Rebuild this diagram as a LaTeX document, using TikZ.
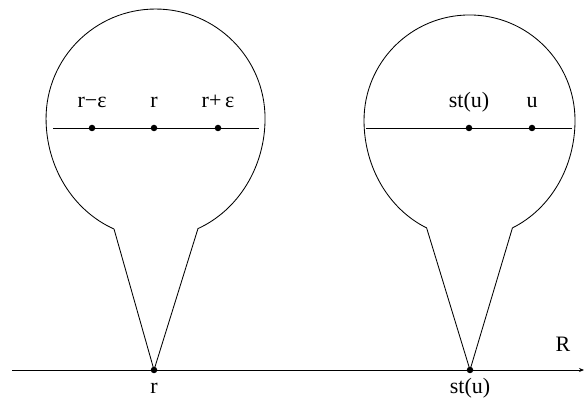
\documentclass[tikz,border=0pt]{standalone}
\usepackage{fontspec}
\setmainfont{Liberation Serif}
\usetikzlibrary{arrows.meta}
\begin{document}
\begin{tikzpicture}[x=1pt,y=1pt,line width=0.85pt,
  dot/.style={circle,fill=black,inner sep=0pt,minimum size=6.5pt},
  lbl/.style={font=\fontsize{22}{24}\selectfont,inner sep=0pt,anchor=base}]
\useasboundingbox (0,0) rectangle (585,398);
% axis
\coordinate (axL) at (12,28);
\coordinate (axR) at (584,28);
\draw[-{Stealth[length=5pt,width=4pt]}] (axL) -- (axR);
\node[lbl] (Rlab) at (563,46) {R};
\node[dot] (r0) at (154,28) {};
\node[dot] (s0) at (470,28) {};
\node[lbl] (rlab0) at (154,4) {r};
\node[lbl] (slab0) at (470,4) {st(u)};
% left bulb
\coordinate (C1) at (155.5,279.5);
\coordinate (J1a) at (114,169);
\coordinate (J1b) at (198,169.4);
\draw (J1a) arc[start angle=247.7,end angle=180,x radius=109.5,y radius=119.4]
  arc[start angle=180,end angle=0,radius=109.5]
  arc[start angle=360,end angle=292.8,x radius=109.5,y radius=119.4]
  -- (r0.center) -- (J1a);
\coordinate (L1a) at (53,270);
\coordinate (L1b) at (259,270);
\draw (L1a) -- (L1b);
\node[dot] (d1) at (92,270) {};
\node[dot] (d2) at (154,270) {};
\node[dot] (d3) at (218,270) {};
\node[lbl] (t1) at (92,290) {r−ε};
\node[lbl] (t2) at (154,290) {r};
\node[lbl] (t3) at (218,290) {r+\,ε};
% right bulb
\coordinate (J2a) at (426.6,170.1);
\coordinate (J2b) at (512.4,170.1);
\draw (J2a) arc[start angle=246,end angle=180,x radius=105.5,y radius=117.6]
  arc[start angle=180,end angle=0,radius=105.5]
  arc[start angle=360,end angle=294,x radius=105.5,y radius=117.6]
  -- (s0.center) -- (J2a);
\coordinate (L2a) at (366,270);
\coordinate (L2b) at (572,270);
\draw (L2a) -- (L2b);
\node[dot] (e1) at (469,270) {};
\node[dot] (e2) at (532,270) {};
\node[lbl] (u1) at (469,290) {st(u)};
\node[lbl] (u2) at (532,290) {u};
\end{tikzpicture}
\end{document}
